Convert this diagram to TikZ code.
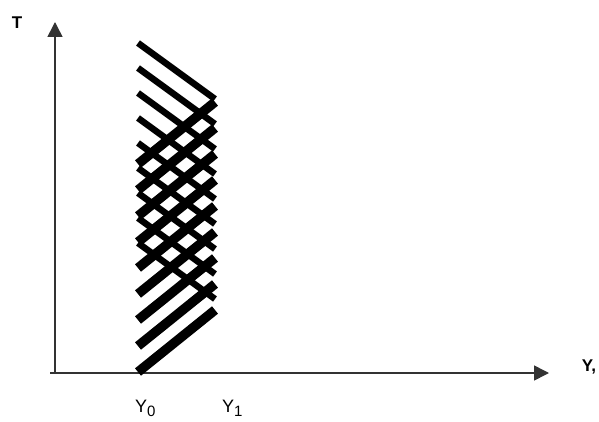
\documentclass[tikz,border=0pt]{standalone}
\usepackage{fontspec}
\setmainfont{Liberation Sans}
\usetikzlibrary{arrows.meta}
\tikzset{
  axis/.style={line width=1.6pt, draw=black!80, -{Triangle[length=15pt,width=15pt]}},
  downline/.style={line width=6.5pt, black},
  upline/.style={line width=9.5pt, black},
  axlabel/.style={font=\bfseries\fontsize{17}{17}\selectfont, inner sep=0pt},
  ticklabel/.style={font=\fontsize{18}{18}\selectfont, inner sep=0pt, anchor=base west}
}
\newcommand{\lowsub}[1]{\raisebox{-4pt}{\fontsize{15}{15}\selectfont #1}}
\begin{document}
\begin{tikzpicture}[x=1pt,y=-1pt]
\useasboundingbox (0,0) rectangle (599,422);
\coordinate (O) at (55,373);
\coordinate (Oleft) at (50,373);
\coordinate (Ttip) at (55,22);
\coordinate (Ytip) at (549,373);
\draw[axis] (O) -- (Ttip);
\draw[axis] (Oleft) -- (Ytip);
\node[axlabel] (T) at (17,23) {T};
\node[axlabel] (Yax) at (589,367) {Y,};
\node[ticklabel] (Y0) at (135,412) {Y\lowsub{0}};
\node[ticklabel] (Y1) at (222,412) {Y\lowsub{1}};
% descending characteristics
\foreach \k in {0,...,8}{
  \draw[downline] (138,{43+25*\k}) -- (215,{99+25*\k});
}
% ascending characteristics
\foreach \k in {0,...,8}{
  \draw[upline] (138,{372-26*\k}) -- (215,{310-26*\k});
}
\end{tikzpicture}
\end{document}
